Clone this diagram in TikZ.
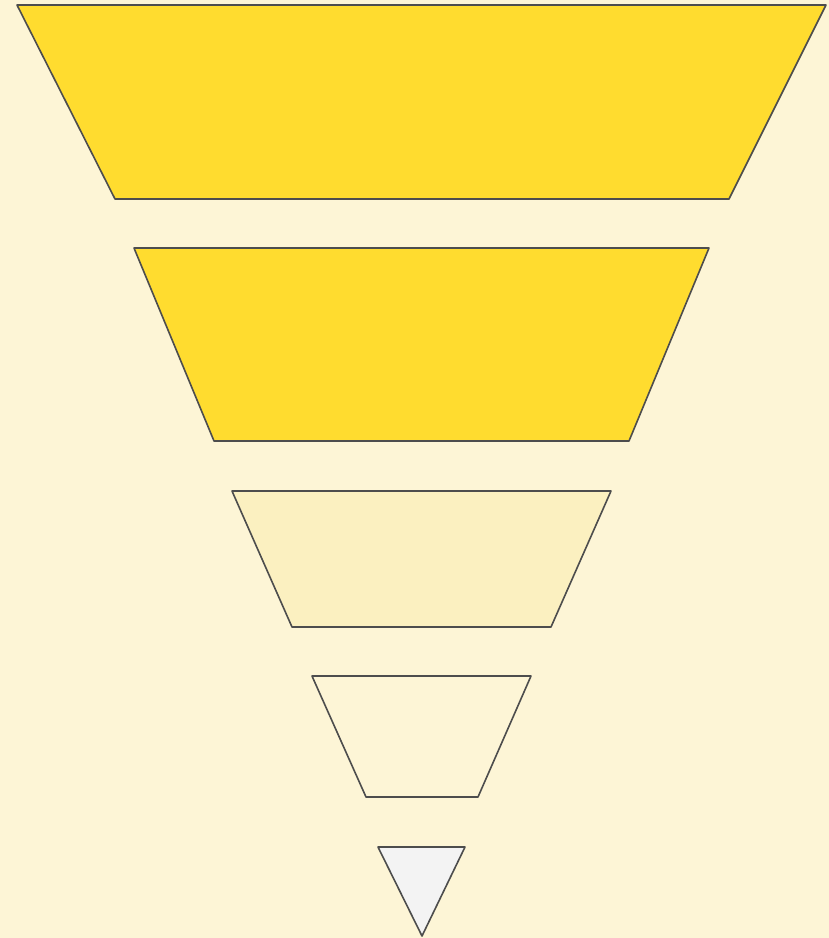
\documentclass[tikz,border=0pt]{standalone}
\usepackage{xcolor}
\definecolor{bgcream}{HTML}{FDF5D6}
\definecolor{gold}{HTML}{FFDC2F}
\definecolor{paleyellow}{HTML}{FBF0C0}
\definecolor{lightgray}{HTML}{F3F3F3}
\definecolor{edge}{HTML}{4D4D4D}

\begin{document}
\begin{tikzpicture}[x=1pt,y=-1pt,stage/.style={draw=edge,line width=1.6pt,line join=round}]
        \fill[bgcream] (0,0) rectangle (829,938);
        \useasboundingbox (0,0) rectangle (829,938);
        \draw[stage,fill=gold] (17,5) -- (826,5) -- (729,199) -- (115,199) -- cycle;
        \draw[stage,fill=gold] (134,248) -- (709,248) -- (629,441) -- (214,441) -- cycle;
        \draw[stage,fill=paleyellow] (232,491) -- (611,491) -- (551,627) -- (292,627) -- cycle;
        \draw[stage,fill=bgcream] (312,676) -- (531,676) -- (478,797) -- (366,797) -- cycle;
        \draw[stage,fill=lightgray] (378,847) -- (465,847) -- (422,936) -- cycle;
\end{tikzpicture}
\end{document}
